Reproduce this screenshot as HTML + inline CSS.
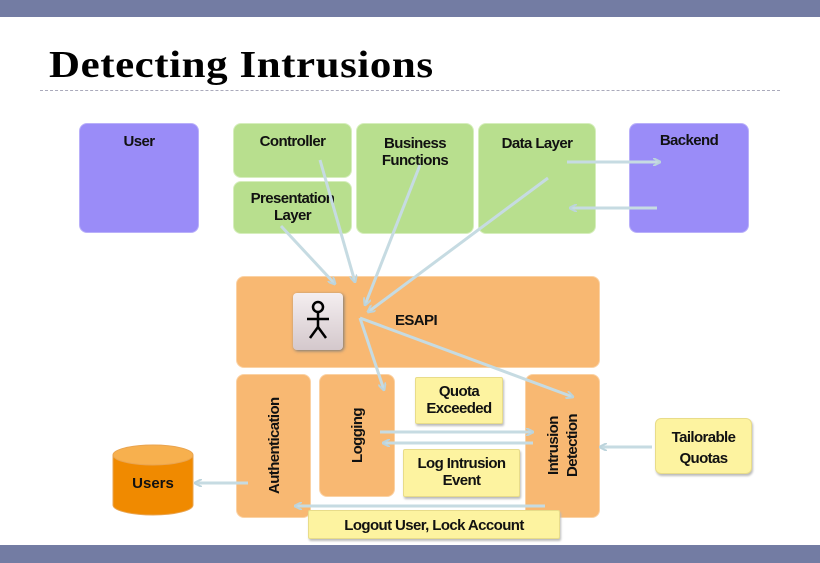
<!DOCTYPE html>
<html><head><style>
body{margin:0;width:820px;height:563px;position:relative;background:#fff;font-family:"Liberation Sans",sans-serif;overflow:hidden}
.b{position:absolute;box-sizing:border-box;border-radius:8px;font-weight:bold;font-size:15px;letter-spacing:-0.6px;text-align:center;color:#111;line-height:17px}
.p{background:#9a8cf8;border:1px solid #b9b0fa}
.g{background:#b8df8e;border:1px solid #d6eebd}
.o{background:#f8b872;border:1px solid #fbd2a4}
.y{background:#fdf3a0;border:1px solid #e8dc8a;border-radius:2px;box-shadow:1px 2px 2px #bbb}
.v{writing-mode:vertical-rl;transform:rotate(180deg)}
</style></head><body>
<div style="position:absolute;left:0;top:0;width:820px;height:17px;background:#737ca3"></div>
<div style="position:absolute;left:0;top:545px;width:820px;height:18px;background:#737ca3"></div>
<div style="position:absolute;left:49px;top:43px;font:bold 38px 'Liberation Serif',serif;color:#000;transform:scaleX(1.13);transform-origin:0 0;letter-spacing:0.5px">Detecting Intrusions</div>
<div style="position:absolute;left:40px;top:90px;width:740px;border-top:1px dashed #aab"></div>

<div class="b p" style="left:79px;top:123px;width:120px;height:110px;padding-top:9px">User</div>
<div class="b g" style="left:233px;top:123px;width:119px;height:55px;padding-top:9px">Controller</div>
<div class="b g" style="left:233px;top:181px;width:119px;height:53px;padding-top:8px">Presentation<br>Layer</div>
<div class="b g" style="left:356px;top:123px;width:118px;height:111px;padding-top:11px">Business<br>Functions</div>
<div class="b g" style="left:478px;top:123px;width:118px;height:111px;padding-top:11px">Data Layer</div>
<div class="b p" style="left:629px;top:123px;width:120px;height:110px;padding-top:8px">Backend</div>

<div class="b o" style="left:236px;top:276px;width:364px;height:92px"><span style="position:absolute;left:158px;top:35px">ESAPI</span></div>
<div style="position:absolute;left:293px;top:293px;width:50px;height:57px;border-radius:4px;background:linear-gradient(#f4eef0,#d4c8cc);box-shadow:1px 1px 3px #777"></div>
<div class="b o v" style="left:236px;top:374px;width:75px;height:144px;line-height:75px">Authentication</div>
<div class="b o v" style="left:319px;top:374px;width:76px;height:123px;line-height:76px">Logging</div>
<div class="b o v" style="left:525px;top:374px;width:75px;height:144px;line-height:19px;padding-right:18px;">Intrusion<br>Detection</div>
<div class="b y" style="left:415px;top:377px;width:88px;height:47px;padding-top:5px">Quota<br>Exceeded</div>
<div class="b y" style="left:403px;top:449px;width:117px;height:48px;padding-top:5px">Log Intrusion<br>Event</div>
<div class="b y" style="left:308px;top:510px;width:252px;height:29px;padding-top:6px">Logout User, Lock Account</div>
<div class="b y" style="left:655px;top:418px;width:97px;height:56px;padding-top:10px;border-radius:6px">Tailorable<br><span style="line-height:26px">Quotas</span></div>

<svg style="position:absolute;left:0;top:0" width="820" height="563">
<defs><marker id="a" markerWidth="8" markerHeight="8" refX="7" refY="4" orient="auto" markerUnits="userSpaceOnUse"><path d="M0,0 L8,4 L0,8" fill="none" stroke="#bcd4dc" stroke-width="2"/></marker></defs>
<g stroke="#c6dbe2" stroke-width="3" fill="none" marker-end="url(#a)">
<line x1="567" y1="162" x2="660" y2="162"/>
<line x1="657" y1="208" x2="570" y2="208"/>
<line x1="320" y1="160" x2="355" y2="282"/>
<line x1="281" y1="226" x2="335" y2="284"/>
<line x1="420" y1="165" x2="365" y2="305"/>
<line x1="548" y1="178" x2="368" y2="312"/>
<line x1="360" y1="318" x2="384" y2="390"/>
<line x1="360" y1="318" x2="573" y2="397"/>
<line x1="380" y1="432" x2="533" y2="432"/>
<line x1="533" y1="443" x2="383" y2="443"/>
<line x1="652" y1="447" x2="600" y2="447"/>
<line x1="545" y1="506" x2="295" y2="506"/>
<line x1="248" y1="483" x2="195" y2="483"/>
</g>
<g stroke="#000" stroke-width="2.5" fill="none" transform="translate(318,321)">
<circle cx="0" cy="-14" r="5"/><line x1="0" y1="-9" x2="0" y2="6"/><line x1="-11" y1="-2" x2="11" y2="-2"/><line x1="0" y1="6" x2="-8" y2="17"/><line x1="0" y1="6" x2="8" y2="17"/>
</g>
<path d="M113,455 v50 a40,10 0 0 0 80,0 v-50" fill="#f08a00" stroke="#e9a450"/>
<ellipse cx="153" cy="455" rx="40" ry="10" fill="#f7b04e" stroke="#e9a450"/>
<text x="153" y="488" text-anchor="middle" font-family="Liberation Sans" font-weight="bold" font-size="15" fill="#111">Users</text>
</svg>
</body></html>
